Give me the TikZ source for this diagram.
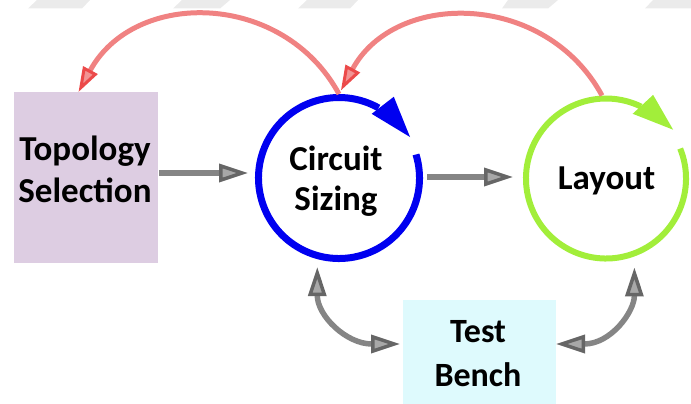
\documentclass[tikz,border=0pt]{standalone}
\usepackage{fontspec}
\setmainfont{Carlito}
\usetikzlibrary{arrows.meta,calc}
\definecolor{topofill}{HTML}{DDCDE2}
\definecolor{tbfill}{HTML}{DEFAFD}
\definecolor{ringblue}{HTML}{0000F0}
\definecolor{ringgreen}{HTML}{A2EE3A}
\definecolor{redline}{HTML}{F08282}
\definecolor{redhead}{HTML}{EC4A4A}
\definecolor{redheadfill}{HTML}{F29494}
\definecolor{grayline}{HTML}{858585}
\definecolor{grayhead}{HTML}{666666}
\definecolor{grayheadfill}{HTML}{A8A8A8}
\definecolor{bandgray}{HTML}{EBEBEB}
\begin{document}
\begin{tikzpicture}[x=1pt,y=1pt,
  lbl/.style={font=\bfseries\fontsize{35}{40}\selectfont, align=center, inner sep=0pt, text=black},
  boxnode/.style={rectangle, draw=none, inner sep=0pt, outer sep=0pt},
  ringnode/.style={circle, draw=none, inner sep=0pt, outer sep=0pt, minimum size=168pt},
  redtip/.tip={Triangle[length=25pt,width=16pt,line width=3pt,color=redhead,fill=redheadfill]},
  graytip/.tip={Triangle[length=29pt,width=18pt,line width=3.5pt,color=grayhead,fill=grayheadfill]},
  redarrow/.style={draw=redline, line width=5pt, -redtip},
  grayarrow/.style={draw=grayline, line width=5.5pt, -graytip},
  grayboth/.style={draw=grayline, line width=5.5pt, graytip-graytip},
  band/.style={fill=bandgray, draw=none}
]
\useasboundingbox (0,0) rectangle (691,-404);
% faint band at the top
\fill[band] (28,-8.5) -- (82,-8.5) -- (90,0) -- (37,0) -- cycle;
\fill[band] (173,-8.5) -- (220,-8.5) -- (230,0) -- (182,0) -- cycle;
\fill[band] (298,-8.5) -- (350,-8.5) -- (358,0) -- (307,0) -- cycle;
\fill[band] (502,-8.5) -- (548,-8.5) -- (558,0) -- (508,0) -- cycle;
\fill[band] (645,-8.5) -- (691,-8.5) -- (691,0) -- (653,0) -- cycle;

% nodes
\node[boxnode, fill=topofill, minimum width=144pt, minimum height=171pt] (topo) at (85.5,-177.5) {};
\node[lbl, font=\bfseries\fontsize{35}{42}\selectfont] (topotxt) at (85,-169) {Topology\\Selection};
\node[ringnode] (circ) at (339,-178) {};
\node[lbl] (circtxt) at (336,-181) {Circuit\\Sizing};
\node[ringnode, minimum size=166pt] (lay) at (606,-178.5) {};
\node[lbl] (laytxt) at (606.5,-180.5) {Layout};
\node[boxnode, fill=tbfill, minimum width=153pt, minimum height=104pt] (tb) at (479.5,-352) {};
\node[lbl, font=\bfseries\fontsize{34}{44}\selectfont] (tbtxt) at (478,-354) {Test\\Bench};

% rings
\draw[ringblue, line width=7pt] ($(circ.center)+(17:80.5)$) arc[start angle=17, end angle=-299.5, radius=80.5];
\fill[ringblue] ($(circ.center)+(63:72)$) -- ($(circ.center)+(56:98)$) -- ($(circ.center)+(30:82)$) -- cycle;
\draw[ringgreen, line width=6pt] ($(lay.center)+(22:80)$) arc[start angle=22, end angle=-296, radius=80];
\fill[ringgreen] ($(lay.center)+(67.6:70)$) -- ($(lay.center)+(60.6:96)$) -- ($(lay.center)+(36:83)$) -- cycle;

% connectors
\draw[grayarrow, shorten <=1.5pt, shorten >=7pt] ([yshift=4.5pt]topo.east) -- ([yshift=5pt]circ.west);
\draw[grayarrow, shorten <=4pt, shorten >=10pt] ([yshift=1pt]circ.east) -- ([yshift=1.5pt]lay.west);
\draw[grayboth, shorten <=8pt, shorten >=3pt] (circ.-105) to[out=-90, in=180, looseness=1.2] ([yshift=8pt]tb.west);
\draw[grayboth, shorten <=11pt] (lay.-70) to[out=-90, in=0, looseness=1.2] ([yshift=8pt]tb.east);
\draw[redarrow] (circ.north) to[out=118.5, in=61.5, looseness=1.15] ([xshift=-7pt]topo.north);
\draw[redarrow, shorten >=4pt] ([xshift=-4pt]lay.north) to[out=118.5, in=61.5, looseness=1.15] (circ.north);
\end{tikzpicture}
\end{document}
